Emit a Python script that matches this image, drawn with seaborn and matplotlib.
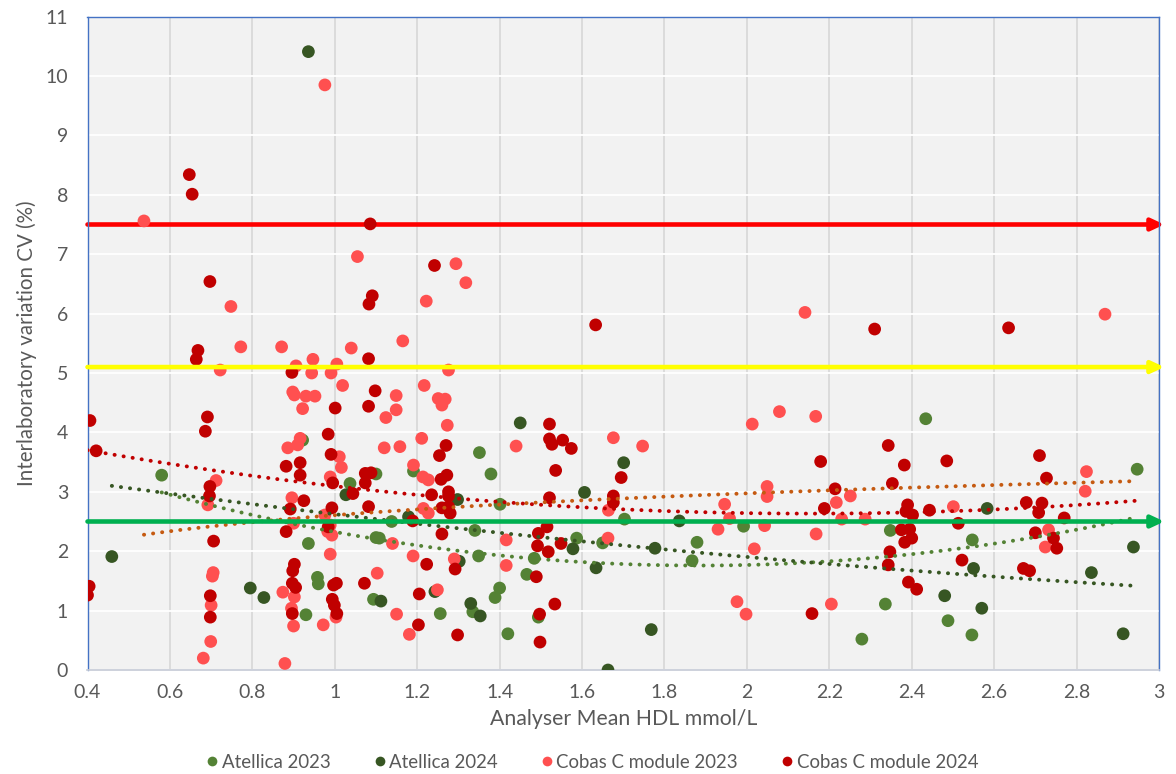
import numpy as np
import pandas as pd
import matplotlib
matplotlib.use("Agg")
import matplotlib.pyplot as plt
from matplotlib.lines import Line2D
import seaborn as sns

# Analyser mean HDL (mmol/L) vs interlaboratory CV (%), one list of (x, y) per analyser/year
atellica_2023 = [
    (0.580, 3.28), (0.922, 3.87), (0.936, 2.13), (0.930, 0.93), (0.958, 1.56), (0.960, 1.45),
    (1.037, 3.14), (1.100, 3.30), (1.094, 1.19), (1.100, 2.23), (1.108, 2.22), (1.138, 2.50),
    (1.191, 3.35), (1.256, 0.95), (1.351, 3.66), (1.379, 3.30), (1.401, 2.79), (1.349, 1.92),
    (1.340, 2.35), (1.484, 1.88), (1.466, 1.61), (1.400, 1.38), (1.389, 1.22), (1.335, 0.98),
    (1.420, 0.61), (1.494, 0.89), (1.587, 2.22), (1.650, 2.14), (1.703, 2.54), (1.879, 2.15),
    (1.867, 1.84), (1.992, 2.42), (2.434, 4.23), (2.348, 2.35), (2.547, 2.19), (2.336, 1.11),
    (2.279, 0.52), (2.488, 0.83), (2.546, 0.59), (2.947, 3.38),
]
atellica_2024 = [
    (0.936, 10.41), (0.459, 1.91), (0.795, 1.38), (0.828, 1.22), (1.027, 2.95), (1.112, 1.16),
    (1.179, 2.58), (1.243, 1.32), (1.298, 2.87), (1.302, 1.83), (1.330, 1.12), (1.353, 0.91),
    (1.450, 4.16), (1.606, 2.99), (1.701, 3.49), (1.578, 2.04), (1.634, 1.72), (1.777, 2.05),
    (1.836, 2.51), (1.768, 0.68), (1.663, 0.00), (2.480, 1.25), (2.550, 1.71), (2.570, 1.04),
    (2.583, 2.72), (2.836, 1.64), (2.938, 2.07), (2.913, 0.61),
]
cobas_2023 = [
    (0.537, 7.56), (0.976, 9.85), (1.055, 6.96), (0.748, 6.12), (1.294, 6.84), (1.318, 6.52),
    (1.222, 6.21), (1.165, 5.54), (2.141, 6.02), (2.869, 5.99),
    (0.772, 5.44), (0.722, 5.05), (0.871, 5.44), (0.712, 3.19), (0.692, 2.78), (0.705, 1.64),
    (0.703, 1.58), (0.700, 1.09), (0.699, 0.48), (0.681, 0.20),
    (0.879, 0.11), (0.874, 1.31), (0.902, 1.23), (0.895, 1.04), (0.900, 0.74), (0.972, 0.76),
    (1.003, 0.89), (1.103, 1.63), (1.150, 0.94),
    (0.906, 5.12), (0.947, 5.23), (0.944, 5.00), (1.005, 5.15), (0.991, 5.00), (1.019, 4.79),
    (1.040, 5.42), (1.149, 4.62), (1.149, 4.38), (1.124, 4.25),
    (0.898, 4.68), (0.902, 4.63), (0.930, 4.61), (0.952, 4.61), (0.922, 4.40),
    (0.886, 3.74), (0.910, 3.79), (0.916, 3.90), (1.011, 3.59), (1.016, 3.41), (0.989, 3.25),
    (1.120, 3.74), (1.158, 3.76),
    (0.896, 2.90), (0.900, 2.47), (0.976, 2.61), (0.989, 2.44), (0.983, 2.33), (0.993, 2.27),
    (0.989, 1.95), (1.140, 2.13),
    (1.276, 5.05), (1.217, 4.79), (1.251, 4.57), (1.268, 4.56), (1.260, 4.46), (1.273, 4.12),
    (1.211, 3.90), (1.191, 3.45), (1.214, 3.25), (1.227, 3.20), (1.215, 2.72), (1.227, 2.64),
    (1.440, 3.77), (1.416, 2.19), (1.663, 2.22), (1.664, 2.69), (1.676, 3.91), (1.747, 3.77),
    (1.946, 2.79), (1.930, 2.37), (1.958, 2.55), (2.049, 3.09), (2.049, 2.92), (2.043, 2.43),
    (2.018, 2.04), (1.976, 1.15), (1.998, 0.94), (2.013, 4.14), (2.079, 4.35),
    (1.181, 0.60), (1.249, 1.35), (1.190, 1.92), (1.290, 1.87), (1.416, 1.76),
    (2.167, 4.27), (2.251, 2.93), (2.217, 2.82), (2.230, 2.54), (2.287, 2.54), (2.168, 2.29),
    (2.501, 2.75), (2.824, 3.34), (2.821, 3.01), (2.732, 2.36), (2.724, 2.07), (2.205, 1.11),
]
cobas_2024 = [
    (0.647, 8.34), (0.654, 8.01), (1.086, 7.51), (0.697, 6.54), (1.091, 6.30), (1.083, 6.16),
    (1.242, 6.81), (1.633, 5.81), (2.310, 5.74), (2.635, 5.76),
    (0.406, 4.20), (0.421, 3.69), (0.404, 1.41), (0.400, 1.26),
    (0.668, 5.38), (0.664, 5.23), (0.691, 4.26), (0.686, 4.02), (0.697, 3.09), (0.696, 2.93),
    (0.706, 2.17), (0.698, 1.25), (0.698, 0.89),
    (0.902, 1.78), (0.898, 1.67), (0.897, 1.46), (0.905, 1.39), (0.897, 0.95),
    (0.997, 1.43), (1.004, 1.46), (0.994, 1.19), (0.999, 1.09), (1.005, 0.95), (1.072, 1.46),
    (0.896, 5.01), (1.082, 5.24), (1.098, 4.70), (1.082, 4.44), (1.001, 4.41), (0.984, 3.97),
    (0.916, 3.49), (0.916, 3.28), (0.882, 3.43), (0.991, 3.63), (0.995, 3.15), (1.074, 3.31),
    (1.088, 3.32), (1.074, 3.15),
    (1.044, 2.97), (0.925, 2.85), (0.892, 2.71), (0.993, 2.73), (1.082, 2.75), (0.882, 2.33),
    (0.984, 2.41),
    (1.270, 3.78), (1.254, 3.61), (1.272, 3.28), (1.258, 3.21), (1.521, 4.14), (1.521, 3.89),
    (1.527, 3.80), (1.553, 3.87), (1.574, 3.73), (1.536, 3.36), (1.521, 2.90),
    (1.235, 2.95), (1.276, 3.00), (1.276, 2.93), (1.260, 2.73), (1.276, 2.75), (1.280, 2.64),
    (1.189, 2.51), (1.260, 2.29),
    (1.515, 2.41), (1.494, 2.30), (1.492, 2.09), (1.518, 1.99), (1.549, 2.13),
    (1.676, 2.93), (1.676, 2.82), (1.695, 3.24),
    (1.203, 0.76), (1.205, 1.28), (1.298, 0.59), (1.223, 1.78), (1.292, 1.70), (1.489, 1.57),
    (1.497, 0.94), (1.534, 1.11), (1.498, 0.47),
    (2.179, 3.51), (2.343, 3.78), (2.382, 3.45), (2.485, 3.52), (2.353, 3.14), (2.710, 3.61),
    (2.727, 3.23),
    (2.214, 3.05), (2.188, 2.72), (2.390, 2.78), (2.386, 2.67), (2.402, 2.61), (2.375, 2.36),
    (2.395, 2.37), (2.400, 2.22), (2.383, 2.15),
    (2.347, 1.99), (2.343, 1.77), (2.392, 1.48), (2.412, 1.36), (2.443, 2.69), (2.513, 2.47),
    (2.522, 1.85),
    (2.678, 2.82), (2.716, 2.81), (2.708, 2.65), (2.770, 2.56), (2.700, 2.31), (2.744, 2.22),
    (2.752, 2.05), (2.671, 1.71), (2.686, 1.67),
    (2.158, 0.95),
]

series_names = ["Atellica 2023", "Atellica 2024", "Cobas C module 2023", "Cobas C module 2024"]
series_points = [atellica_2023, atellica_2024, cobas_2023, cobas_2024]
series_colors = ["#548235", "#375623", "#FF5050", "#C00000"]

# Trendline equations per series (polynomial: c0 + c1*x + c2*x^2; logarithmic: c0 + c1*ln x)
trend_kinds = ["poly2", "poly2", "log", "poly2"]
trend_coefs = [
    [4.326, -2.723, 0.722],
    [3.553, -1.035, 0.105],
    [2.607, 0.530],
    [4.243, -1.495, 0.347],
]
trend_colors = ["#548235", "#375623", "#C55A11", "#C00000"]

# CV performance limits (%) drawn as arrows across the plot
limit_values = [7.5, 5.1, 2.5]
limit_colors = ["#FF0000", "#FFFF00", "#00B050"]

x_ticks = [0.4, 0.6, 0.8, 1.0, 1.2, 1.4, 1.6, 1.8, 2.0, 2.2, 2.4, 2.6, 2.8, 3.0]
x_tick_labels = ["0.4", "0.6", "0.8", "1", "1.2", "1.4", "1.6", "1.8", "2", "2.2", "2.4", "2.6", "2.8", "3"]
y_ticks = list(range(0, 12))

frames = []
for name, pts in zip(series_names, series_points):
    arr = np.array(pts)
    frames.append(pd.DataFrame({"hdl": arr[:, 0], "cv": arr[:, 1], "series": name}))
df = pd.concat(frames, ignore_index=True)

sns.set_style("white")
plt.rcParams["font.family"] = ["Lato", "DejaVu Sans"]
text_color = "#595959"

W, H = 1176, 774
fig = plt.figure(figsize=(W / 100, H / 100), dpi=100)
left, right, top, bottom = 87.5, 1159.0, 16.6, 670.0
ax = fig.add_axes([left / W, 1 - bottom / H, (right - left) / W, (bottom - top) / H])
ax.set_facecolor("#F2F2F2")

sns.scatterplot(data=df, x="hdl", y="cv", hue="series", hue_order=series_names,
                palette=dict(zip(series_names, series_colors)), s=84, linewidth=0,
                alpha=1, legend=False, ax=ax, zorder=3)

# trendlines run from each series' lowest mean to the highest mean plotted
x_end = df["hdl"].max()
for name, kind, coef, color in zip(series_names, trend_kinds, trend_coefs, trend_colors):
    sub = df[df["series"] == name]
    xs = np.linspace(sub["hdl"].min(), x_end, 200)
    if kind == "log":
        ys = coef[0] + coef[1] * np.log(xs)
    else:
        ys = np.polynomial.polynomial.polyval(xs, coef)
    ax.plot(xs, ys, color=color, lw=2.8, linestyle=(0, (0.05, 2.3)),
            dash_capstyle="round", zorder=5)

for val, color in zip(limit_values, limit_colors):
    ax.annotate("", xy=(3.013, val), xytext=(0.4, val), xycoords="data",
                arrowprops=dict(arrowstyle="-|>,head_length=0.75,head_width=0.35",
                                color=color, lw=3.3, shrinkA=0, shrinkB=0),
                annotation_clip=False, zorder=2 if val > 7 else 6)

ax.set_xlim(0.4, 3.0)
ax.set_ylim(0, 11)
ax.set_xticks(x_ticks)
ax.set_xticklabels(x_tick_labels)
ax.set_yticks(y_ticks)
ax.tick_params(axis="both", length=0, labelsize=14, labelcolor=text_color)
ax.tick_params(axis="y", pad=14)
ax.tick_params(axis="x", pad=10)

ax.xaxis.grid(True, color="#D9D9D9", lw=1.3, zorder=0)
ax.yaxis.grid(True, color="#FFFFFF", lw=1.3, zorder=0)
ax.set_axisbelow(True)
for side in ["top", "left", "right"]:
    ax.spines[side].set_color("#4472C4")
    ax.spines[side].set_linewidth(1.0)
ax.spines["bottom"].set_color("#C5CAD6")
ax.spines["bottom"].set_linewidth(1.2)

ax.set_xlabel("Analyser Mean HDL mmol/L", fontsize=15.3, color=text_color)
ax.set_ylabel("Interlaboratory variation CV (%)", fontsize=14.8, color=text_color)
ax.xaxis.set_label_coords(0.5, -0.06)
ax.yaxis.set_label_coords(-0.047, 0.5)

handles = [Line2D([], [], marker="o", linestyle="none", markersize=7, markeredgewidth=0,
                  markerfacecolor=c) for c in series_colors]
fig.legend(handles, series_names, loc="center", bbox_to_anchor=(591 / W, 1 - 762 / H),
           ncol=4, frameon=False, fontsize=13.4, labelcolor=text_color,
           handletextpad=0.05, columnspacing=2.2, handlelength=0.9)

fig.savefig("out.png", dpi=100, facecolor="white")
